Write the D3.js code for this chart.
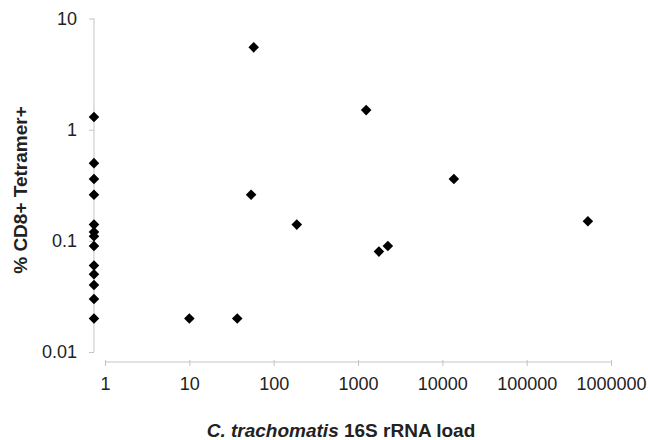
<!DOCTYPE html>
<html>
<head>
<meta charset="utf-8">
<script src="https://cdn.jsdelivr.net/npm/d3@7"></script>
<style>
  body { margin: 0; background: #fff; }
  text { font-family: "Liberation Sans", Arial, sans-serif; }
</style>
</head>
<body>
<div id="chart"></div>
<script>
// rRNA load (copies) and % CD8+ tetramer+ for each subject
// undetected loads sit just left of 1, on the y axis
var load = [0.74, 0.74, 0.74, 0.74, 0.74, 0.74, 0.74, 0.74, 0.74, 0.74, 0.74, 0.74, 0.74,
            58, 1250, 54, 188, 1770, 2260, 13700, 532000, 10, 37];
var tetramer = [1.3, 0.5, 0.36, 0.26, 0.14, 0.12, 0.11, 0.09, 0.06, 0.05, 0.04, 0.03, 0.02,
                5.5, 1.5, 0.26, 0.14, 0.08, 0.09, 0.36, 0.15, 0.02, 0.02];

var xTicks = [1, 10, 100, 1000, 10000, 100000, 1000000];
var yTicks = [0.01, 0.1, 1, 10];

var svg = d3.select("#chart")
  .append("svg")
    .attr("width", 648)
    .attr("height", 440);

// scales
var x = d3.scaleLog()
    .domain([1, 1000000])
    .range([105, 611]);
var y = d3.scaleLog()
    .domain([0.01, 10])
    .range([352, 18.5]);

var axisColor = "#c4c4c4";
var yAxisX = x(0.74);

// Y axis
var yAxis = svg.append("g")
    .attr("transform", "translate(" + yAxisX + ",0)")
    .call(d3.axisLeft(y).tickValues(yTicks).tickFormat(d3.format("~g")).tickSize(5).tickPadding(12));
yAxis.select(".domain").attr("stroke", axisColor).attr("d", "M0," + y(10) + "V" + y(0.01));
yAxis.selectAll(".tick line").attr("stroke", axisColor);
yAxis.selectAll("text").style("font-size", "18px").attr("fill", "#222");

// X axis
var xAxis = svg.append("g")
    .attr("transform", "translate(0,362)")
    .call(d3.axisBottom(x).tickValues(xTicks).tickFormat(d3.format("d")).tickSize(4).tickPadding(11));
xAxis.select(".domain").attr("stroke", axisColor).attr("d", "M" + x(1) + ",0H" + x(1000000));
xAxis.selectAll(".tick line").attr("stroke", axisColor).attr("y1", -2);
xAxis.selectAll("text").style("font-size", "18px").attr("fill", "#222");

// points
var diamond = d3.symbol().type(d3.symbolSquare).size(56);
svg.append("g")
  .selectAll("path")
  .data(load)
  .enter().append("path")
    .attr("d", diamond)
    .attr("transform", function(d, i) {
      return "translate(" + x(d) + "," + y(tetramer[i]) + ")rotate(45)";
    })
    .attr("fill", "#000");

// axis titles
svg.append("text")
    .attr("transform", "translate(20,190)rotate(-90)")
    .attr("text-anchor", "middle")
    .attr("dy", "0.35em")
    .style("font-size", "19px")
    .style("font-weight", "bold")
    .attr("fill", "#222")
    .text("% CD8+ Tetramer+");

var title = svg.append("text")
    .attr("x", 341)
    .attr("y", 437)
    .attr("text-anchor", "middle")
    .style("font-size", "19px")
    .style("font-weight", "bold")
    .attr("fill", "#222");
title.append("tspan").style("font-style", "italic").text("C. trachomatis");
title.append("tspan").text(" 16S rRNA load");
</script>
</body>
</html>
